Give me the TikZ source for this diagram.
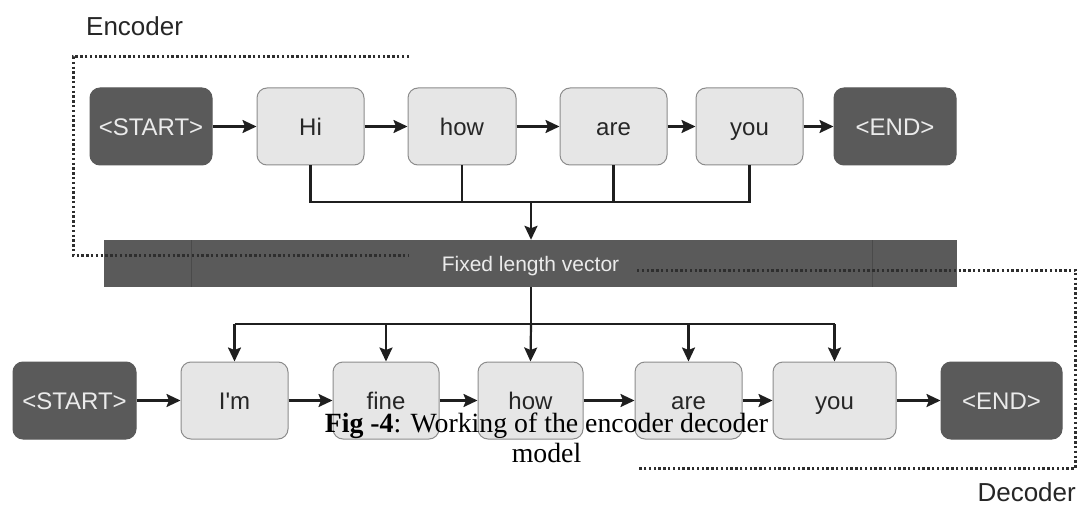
\documentclass[tikz,border=0pt]{standalone}
\usepackage{fontspec}
\setmainfont{Liberation Serif}
\setsansfont{Liberation Sans}
\usetikzlibrary{arrows.meta}
\definecolor{lightbox}{HTML}{E6E6E6}
\definecolor{darkbox}{HTML}{5A5A5A}
\definecolor{boxline}{HTML}{8C8C8C}
\definecolor{innerline}{HTML}{4A4A4A}
\tikzset{
  wordbox/.style={draw=boxline, line width=1pt, fill=lightbox, rounded corners=10pt,
    minimum height=77pt, inner sep=0pt, text=black!85, text height=17.2pt, text depth=0pt,
    font=\sffamily\fontsize{24}{28}\selectfont},
  tokbox/.style={draw=darkbox, line width=1pt, fill=darkbox, rounded corners=10pt,
    minimum height=77pt, inner sep=0pt, text=white!92!black, text height=17.2pt, text depth=0pt,
    font=\sffamily\fontsize{24}{28}\selectfont},
  vecbar/.style={fill=darkbox, draw=none, minimum height=47pt, minimum width=853pt,
    inner sep=0pt, text=white!92!black, text height=15pt, text depth=0pt,
    font=\sffamily\fontsize{21}{25}\selectfont},
  conn/.style={line width=2.2pt, draw=black!88},
  arr/.style={conn, -{Stealth[length=14pt,width=13pt,inset=2.5pt]}},
  dotline/.style={line width=3pt, draw=black!82, dash pattern=on 2.4pt off 2.4pt},
  grouplabel/.style={font=\sffamily\fontsize{26}{30}\selectfont, text=black!85, inner sep=0pt},
  captext/.style={font=\rmfamily\fontsize{27.8}{32}\selectfont, text=black, inner sep=0pt}
}
\begin{document}
\begin{tikzpicture}[x=1pt,y=-1pt]
\useasboundingbox[fill=white] (0,0) rectangle (1078,505);

% labels
\node[grouplabel, anchor=base west] (enclabel) at (86,36) {Encoder};
\node[grouplabel, anchor=base east] (declabel) at (1076,501) {Decoder};

% top row (encoder)
\node[tokbox,  minimum width=122pt] (s1)   at (151,126.5)   {<START>};
\node[wordbox, minimum width=107pt] (hi)   at (310.5,126.5) {Hi};
\node[wordbox, minimum width=108pt] (how1) at (462,126.5)   {how};
\node[wordbox, minimum width=107pt] (are1) at (613.5,126.5) {are};
\node[wordbox, minimum width=107pt] (you1) at (749.5,126.5) {you};
\node[tokbox,  minimum width=122pt] (e1)   at (895,126.5)   {<END>};

% fixed length vector
\node[vecbar] (vec) at (530.5,263.5) {Fixed length vector};
\draw[innerline, line width=1pt] (191,240) -- (191,287);
\draw[innerline, line width=1pt] (872,240) -- (872,287);

% bottom row (decoder)
\node[tokbox,  minimum width=123pt] (s2)   at (74.5,400.5)  {<START>};
\node[wordbox, minimum width=107pt] (im)   at (234.5,400.5) {I\textquotesingle m};
\node[wordbox, minimum width=106pt] (fine) at (386,400.5)   {fine};
\node[wordbox, minimum width=105pt] (how2) at (530.5,400.5) {how};
\node[wordbox, minimum width=107pt] (are2) at (688.5,400.5) {are};
\node[wordbox, minimum width=123pt] (you2) at (834.5,400.5) {you};
\node[tokbox,  minimum width=121pt] (e2)   at (1001.5,400.5){<END>};

% horizontal arrows
\draw[arr] (s1) -- (hi);
\draw[arr] (hi) -- (how1);
\draw[arr] (how1) -- (are1);
\draw[arr] (are1) -- (you1);
\draw[arr] (you1) -- (e1);
\draw[arr] (s2) -- (im);
\draw[arr] (im) -- (fine);
\draw[arr] (fine) -- (how2);
\draw[arr] (how2) -- (are2);
\draw[arr] (are2) -- (you2);
\draw[arr] (you2) -- (e2);

% collector into the vector
\coordinate (j) at (531,202);
\draw[conn] (hi.south) -- (hi.south |- j) -- (you1.south |- j) -- (you1.south);
\draw[conn] (how1.south) -- (how1.south |- j);
\draw[conn] (are1.south) -- (are1.south |- j);
\draw[arr] (j) -- (j |- vec.north);

% distribution out of the vector
\coordinate (k) at (531,324);
\draw[conn] (k |- vec.south) -- (k);
\draw[conn] (im.north |- k) -- (you2.north |- k);
\draw[arr] (im.north |- k) -- (im.north);
\draw[arr] (fine.north |- k) -- (fine.north);
\draw[arr] (k) -- (how2.north);
\draw[arr] (are2.north |- k) -- (are2.north);
\draw[arr] (you2.north |- k) -- (you2.north);

% dotted group outlines
\draw[dotline] (409,57) -- (73,57) -- (73,255) -- (408,255);
\draw[dotline] (637,270) -- (1075.5,270) -- (1075.5,468) -- (637,468);

% caption
\node[captext, anchor=base] (cap1) at (546.5,432) {\textbf{Fig -4}: Working of the encoder decoder};
\node[captext, anchor=base] (cap2) at (546.5,462) {model};
\end{tikzpicture}
\end{document}
